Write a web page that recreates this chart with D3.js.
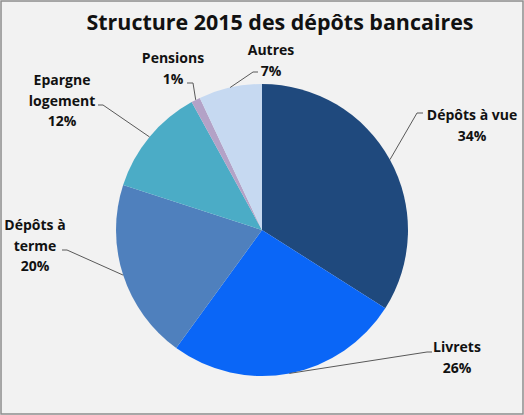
<!DOCTYPE html>
<html>
<head>
<meta charset="utf-8">
<script src="https://cdn.jsdelivr.net/npm/d3@7"></script>
<style>
  html, body { margin: 0; padding: 0; background: #fff; }
  svg { display: block; }
</style>
</head>
<body>
<div id="chart"></div>
<script>
// Data
const categories = ['Dépôts à vue', 'Livrets', 'Dépôts à terme', 'Epargne logement', 'Pensions', 'Autres'];
const values = [34, 26, 20, 12, 1, 7];
const labelLines = [['Dépôts à vue'], ['Livrets'], ['Dépôts à', 'terme'], ['Epargne', 'logement'], ['Pensions'], ['Autres']];
const colors = ['#1F497D', '#0A66F7', '#4F80BD', '#4BACC6', '#B3A2C7', '#C6D9F1'];

// Label layout: text centre, leader knee and leader end (relative to pie centre)
const labelLayout = [
  { tx: 210, ty: -105, knee: [155, -117], end: [161, -117] },
  { tx: 195, ty: 127, knee: [165, 122], end: [170, 122] },
  { tx: -227, ty: 15, knee: [-195, 20], end: [-200, 20] },
  { tx: -200, ty: -130, knee: [-159, -125], end: [-164, -125] },
  { tx: -89, ty: -162, knee: [-69, -147], end: [-75, -147] },
  { tx: 9, ty: -170, knee: [-9, -158], end: [-4, -158] }
];

const width = 524, height = 415;
const cx = 262, cy = 230, radius = 146;

const svg = d3.select('#chart').append('svg')
  .attr('width', width)
  .attr('height', height);

svg.append('rect')
  .attr('x', 1).attr('y', 1)
  .attr('width', width - 2).attr('height', height - 2)
  .attr('fill', '#F2F2F2')
  .attr('stroke', '#8C8C8C')
  .attr('stroke-width', 1.5);

// Title
svg.append('text')
  .attr('x', 280)
  .attr('y', 30)
  .attr('text-anchor', 'middle')
  .attr('font-family', 'Open Sans, sans-serif')
  .attr('font-weight', 'bold')
  .attr('font-size', '21px')
  .attr('textLength', 387)
  .attr('lengthAdjust', 'spacingAndGlyphs')
  .attr('fill', '#111')
  .text('Structure 2015 des dépôts bancaires');

const g = svg.append('g').attr('transform', `translate(${cx},${cy})`);

const pie = d3.pie().sort(null).value(d => d);
const arcs = pie(values);
const arc = d3.arc().innerRadius(0).outerRadius(radius);

g.selectAll('path.slice')
  .data(arcs)
  .enter()
  .append('path')
  .attr('class', 'slice')
  .attr('d', arc)
  .attr('fill', (d, i) => colors[i]);

// Leader lines from slice edge midpoint
arcs.forEach((d, i) => {
  const a = (d.startAngle + d.endAngle) / 2;
  const p0 = [radius * Math.sin(a), -radius * Math.cos(a)];
  const L = labelLayout[i];
  g.append('polyline')
    .attr('points', [p0, L.knee, L.end].map(p => p.join(',')).join(' '))
    .attr('fill', 'none')
    .attr('stroke', '#595959')
    .attr('stroke-width', 1);
});

// Labels
arcs.forEach((d, i) => {
  const L = labelLayout[i];
  const lines = labelLines[i].concat([values[i] + '%']);
  const t = g.append('text')
    .attr('text-anchor', 'middle')
    .attr('font-family', 'Open Sans, sans-serif')
    .attr('font-weight', 'bold')
    .attr('font-size', '14px')
    .attr('fill', '#111');
  const y0 = L.ty - (lines.length - 1) * 10;
  lines.forEach((s, k) => {
    t.append('tspan')
      .attr('x', L.tx)
      .attr('y', y0 + k * 20.5 + 5)
      .text(s);
  });
});
</script>
</body>
</html>
